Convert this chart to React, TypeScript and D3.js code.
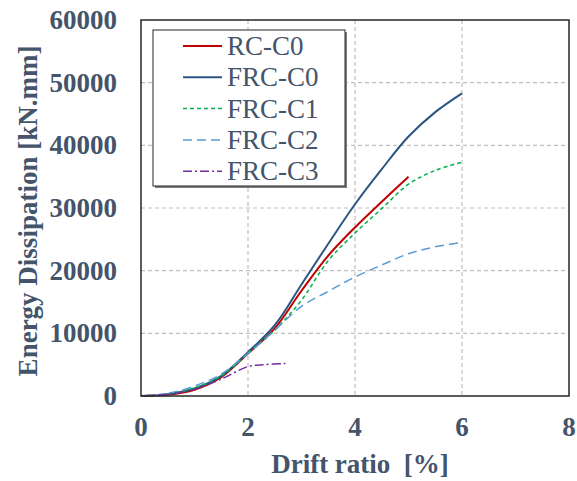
import React, { useEffect, useRef } from "react";
import * as d3 from "d3";

// drift ratio [%] vs energy dissipation [kN.mm]
const rcC0 = [[0, 0], [0.5, 200], [1, 1000], [1.5, 3000], [2, 6800], [2.5, 10800], [3, 16800], [3.5, 22400], [4, 26900], [4.5, 31000], [5, 35000]];
const frcC0 = [[0, 0], [0.5, 300], [1, 1200], [1.5, 3200], [2, 7000], [2.5, 11300], [3, 17800], [3.5, 24300], [4, 30600], [4.5, 36200], [5, 41400], [5.5, 45300], [6, 48300]];
const frcC1 = [[0, 0], [0.5, 300], [1, 1300], [1.5, 3200], [2, 6800], [2.5, 10500], [3, 15300], [3.5, 21600], [4, 26000], [4.5, 29900], [5, 33800], [5.5, 36000], [6, 37300]];
const frcC2 = [[0, 0], [0.5, 400], [1, 1600], [1.5, 3500], [2, 6800], [2.5, 10500], [3, 14300], [3.5, 16700], [4, 19000], [4.5, 20900], [5, 22700], [5.5, 23800], [6, 24500]];
const frcC3 = [[0, 0], [0.5, 300], [1, 1100], [1.5, 2700], [2, 4700], [2.3, 5000], [2.7, 5200]];

const xTicks = [0, 2, 4, 6, 8];
const yTicks = [0, 10000, 20000, 30000, 40000, 50000, 60000];

const series = [
  { name: "RC-C0", data: rcC0, color: "#C00000", dash: null, width: 2 },
  { name: "FRC-C0", data: frcC0, color: "#2B5582", dash: null, width: 2 },
  { name: "FRC-C1", data: frcC1, color: "#00B050", dash: "4,3", width: 1.5 },
  { name: "FRC-C2", data: frcC2, color: "#5B9BD5", dash: "9,5", width: 1.5 },
  { name: "FRC-C3", data: frcC3, color: "#7030A0", dash: "9,3,2,3", width: 1.5 },
];

const textColor = "#44546A";
const font = "Liberation Serif";

export default function App() {
  const svgRef = useRef(null);

  useEffect(() => {
    document.body.style.margin = "0";
    document.body.style.overflow = "hidden";

    const w = 577;
    const h = 481;
    const svg = d3.select(svgRef.current).attr("width", w).attr("height", h);
    svg.selectAll("*").remove();

    const left = 141, right = 569, top = 20, bottom = 396;

    //scales
    const xScale = d3.scaleLinear().domain([0, 8]).range([left, right]);
    const yScale = d3.scaleLinear().domain([0, 60000]).range([bottom, top]);

    //grid
    svg
      .selectAll(".vgrid")
      .data(xTicks.slice(1, -1))
      .enter()
      .append("line")
      .attr("x1", (d) => xScale(d))
      .attr("x2", (d) => xScale(d))
      .attr("y1", top)
      .attr("y2", bottom)
      .attr("stroke", "#BFBFBF")
      .attr("stroke-width", 1.2)
      .attr("stroke-dasharray", "4,3");
    svg
      .selectAll(".hgrid")
      .data(yTicks.slice(1, -1))
      .enter()
      .append("line")
      .attr("x1", left)
      .attr("x2", right)
      .attr("y1", (d) => yScale(d))
      .attr("y2", (d) => yScale(d))
      .attr("stroke", "#BFBFBF")
      .attr("stroke-width", 1.2)
      .attr("stroke-dasharray", "4,3");

    //tick labels
    svg
      .selectAll(".xt")
      .data(xTicks)
      .enter()
      .append("text")
      .attr("x", (d) => xScale(d))
      .attr("y", 436)
      .attr("text-anchor", "middle")
      .style("font-family", font)
      .attr("font-weight", "bold")
      .attr("font-size", 27)
      .attr("fill", textColor)
      .text((d) => d);
    svg
      .selectAll(".yt")
      .data(yTicks)
      .enter()
      .append("text")
      .attr("x", 117)
      .attr("y", (d) => yScale(d) + 9)
      .attr("text-anchor", "end")
      .style("font-family", font)
      .attr("font-weight", "bold")
      .attr("font-size", 27)
      .attr("fill", textColor)
      .text((d) => d);

    //axis titles
    svg
      .append("text")
      .attr("x", 360)
      .attr("y", 473)
      .attr("text-anchor", "middle")
      .style("font-family", font)
      .style("white-space", "pre")
      .attr("font-weight", "bold")
      .attr("font-size", 27)
      .attr("fill", textColor)
      .text("Drift ratio  [%]");
    svg
      .append("text")
      .attr("transform", `translate(37, ${(top + bottom) / 2 + 3}) rotate(-90)`)
      .attr("text-anchor", "middle")
      .style("font-family", font)
      .attr("font-weight", "bold")
      .attr("font-size", 27)
      .attr("fill", textColor)
      .text("Energy Dissipation [kN.mm]");

    //lines
    const line = d3
      .line()
      .x((d) => xScale(d[0]))
      .y((d) => yScale(d[1]))
      .curve(d3.curveCatmullRom);

    svg
      .selectAll(".line")
      .data(series)
      .enter()
      .append("path")
      .attr("fill", "none")
      .attr("stroke", (d) => d.color)
      .attr("stroke-width", (d) => d.width)
      .attr("stroke-dasharray", (d) => d.dash)
      .attr("d", (d) => line(d.data));

    //plot frame
    svg
      .append("rect")
      .attr("x", left)
      .attr("y", top)
      .attr("width", right - left)
      .attr("height", bottom - top)
      .attr("fill", "none")
      .attr("stroke", "#262626")
      .attr("stroke-width", 1.5);

    //legend
    const lg = svg.append("g");
    lg.append("rect")
      .attr("x", 155)
      .attr("y", 32)
      .attr("width", 192)
      .attr("height", 156)
      .attr("fill", "#7F7F7F");
    lg.append("rect")
      .attr("x", 153)
      .attr("y", 30)
      .attr("width", 192)
      .attr("height", 156)
      .attr("fill", "white")
      .attr("stroke", "#262626")
      .attr("stroke-width", 1);
    const rows = lg
      .selectAll(".row")
      .data(series)
      .enter()
      .append("g")
      .attr("transform", (d, i) => `translate(0, ${46 + i * 31.3})`);
    rows
      .append("line")
      .attr("x1", 183)
      .attr("x2", 222)
      .attr("stroke", (d) => d.color)
      .attr("stroke-width", (d) => d.width)
      .attr("stroke-dasharray", (d) => d.dash);
    rows
      .append("text")
      .attr("x", 227)
      .attr("y", 9)
      .style("font-family", font)
      .attr("font-size", 27)
      .attr("fill", textColor)
      .text((d) => d.name);
  }, []);

  return (
    <div>
      <svg ref={svgRef} style={{ display: "block" }}></svg>
    </div>
  );
}
